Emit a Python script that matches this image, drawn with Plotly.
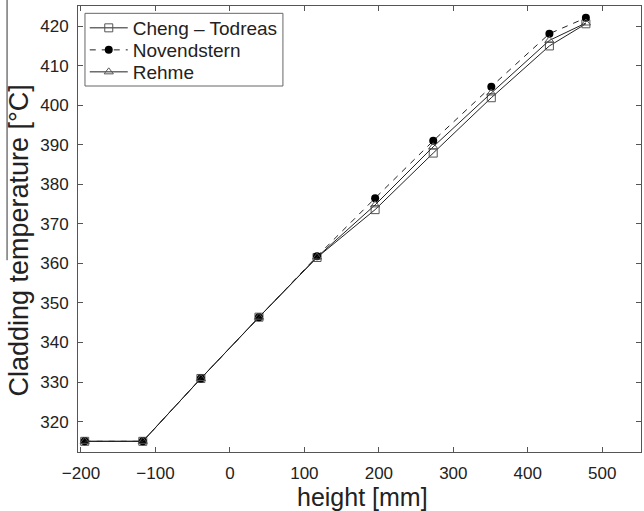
import plotly.graph_objects as go

height_mm = [-195, -117, -39, 39, 117, 195, 273, 351, 429, 478]
cheng_todreas = [315.0, 315.0, 330.9, 346.4, 361.5, 373.6, 387.9, 401.9, 415.0, 420.6]
novendstern = [315.0, 315.0, 330.9, 346.4, 361.8, 376.5, 391.0, 404.7, 418.1, 422.1]
rehme = [315.0, 315.0, 330.9, 346.4, 361.6, 374.8, 389.5, 403.1, 416.4, 420.8]

x_ticks = [-200, -100, 0, 100, 200, 300, 400, 500]
y_ticks = [320, 330, 340, 350, 360, 370, 380, 390, 400, 410, 420]

FONT = "Liberation Sans, Arial, Helvetica, sans-serif"

fig = go.Figure()
fig.add_trace(go.Scatter(
    x=height_mm, y=cheng_todreas, name="Cheng \u2013 Todreas", mode="lines+markers",
    line=dict(color="#222", width=1), legend="legend",
    marker=dict(symbol="square-open", size=8, color="#555", line=dict(width=1)),
))
fig.add_trace(go.Scatter(
    x=height_mm, y=novendstern, name="Novendstern", mode="lines+markers",
    line=dict(color="#222", width=1, dash="6px,6px"), legend="legend2",
    marker=dict(symbol="circle", size=8, color="black"),
))
fig.add_trace(go.Scatter(
    x=height_mm, y=rehme, name="Rehme", mode="lines+markers",
    line=dict(color="#222", width=1), legend="legend3",
    marker=dict(symbol="triangle-up-open", size=8, color="#555", line=dict(width=1)),
))

axis_common = dict(
    showline=True, linecolor="#555", linewidth=1, mirror="allticks",
    ticks="inside", ticklen=5, tickcolor="#555", tickwidth=1,
    showgrid=False, zeroline=False,
    tickfont=dict(family=FONT, size=17, color="#222"),
)

def leg(yc):
    return dict(
        x=0.012, y=yc, xanchor="left", yanchor="middle",
        bgcolor="rgba(0,0,0,0)", borderwidth=0,
        font=dict(family=FONT, size=19, color="#222"),
        itemwidth=38,
    )

fig.update_layout(
    width=644, height=511,
    margin=dict(l=78, r=3, t=6, b=59),
    paper_bgcolor="white", plot_bgcolor="white",
    font=dict(family=FONT, color="#222"),
    showlegend=True,
    legend=leg(0.9507), legend2=leg(0.9013), legend3=leg(0.852),
    xaxis=dict(
        range=[-204, 552], tickvals=x_ticks,
        ticklabelstandoff=6,
        **axis_common,
    ),
    yaxis=dict(
        range=[312.3, 425.1], tickvals=y_ticks,
        ticklabelstandoff=5,
        **axis_common,
    ),
    annotations=[
        dict(
            text="Cladding temperature [\u00b0C]", textangle=-90,
            xref="paper", yref="paper", x=-0.104, y=0.475,
            xanchor="center", yanchor="middle", showarrow=False,
            font=dict(family=FONT, size=27, color="#222"),
        ),
        dict(
            text="height [mm]",
            xref="paper", yref="paper", x=0.505, y=-0.1,
            xanchor="center", yanchor="middle", showarrow=False,
            font=dict(family=FONT, size=25, color="#222"),
        ),
    ],
    shapes=[
        dict(type="rect", xref="paper", yref="paper", layer="above",
             x0=0.0124, x1=0.364, y0=0.8206, y1=0.9836,
             fillcolor="rgba(0,0,0,0)", line=dict(color="#666", width=1)),
        dict(type="rect", xref="paper", yref="paper", layer="below",
             x0=0.0124, x1=0.364, y0=0.8206, y1=0.9836,
             fillcolor="white", line=dict(width=0)),
        dict(type="line", xref="paper", yref="paper",
             x0=-0.126, x1=-0.126, y0=1.0135, y1=0.43,
             line=dict(color="#333", width=1)),
    ],
)

fig.write_html("out.html")
